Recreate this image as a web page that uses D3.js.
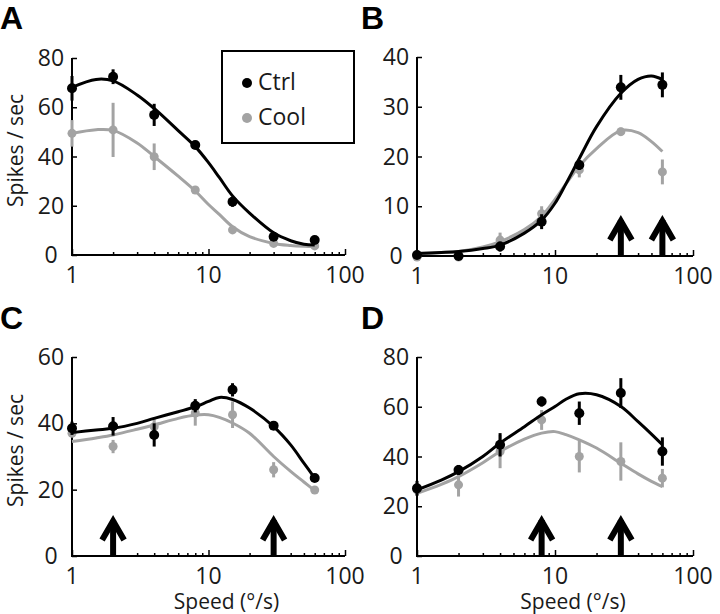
<!DOCTYPE html>
<html><head><meta charset="utf-8">
<script src="https://cdn.jsdelivr.net/npm/d3@7"></script>
<style>body{margin:0;background:#fff}svg{display:block}</style>
</head><body>
<svg id="chart" width="720" height="614"></svg>
<script>
// ---- data ----
const speeds = [1, 2, 4, 8, 15, 30, 60];
const fitSpeeds = [1, 1.5, 2, 3, 4, 6, 8, 10, 12, 15, 20, 30, 40, 50, 60];
const seriesNames = ["Ctrl", "Cool"];

const aCtrl = [67.7, 72.4, 56.9, 44.7, 21.6, 7.4, 6.1];
const aCtrlErr = [5, 3, 4.5, 1, 2, 1.5, 1];
const aCool = [49.4, 50.8, 39.9, 26.4, 10.2, 4.7, 3.7];
const aCoolErr = [5.4, 11, 5.4, 1.5, 1.5, 1, 1];
const aFitCtrl = [68.1, 71.3, 70.7, 65, 59.5, 50.5, 44, 37.5, 31.5, 24, 17, 9, 5.8, 4.4, 4.1];
const aFitCool = [49.4, 50.9, 50.6, 45.5, 40, 32, 26, 20.5, 16.5, 11.5, 7.5, 4.7, 3.9, 3.6, 3.5];

const bCtrl = [0.2, 0, 1.9, 6.9, 18.3, 33.9, 34.4];
const bCtrlErr = [0.4, 0.4, 1, 1.5, 1, 2.5, 2.5];
const bCool = [-0.2, -0.2, 3.2, 8.5, 17.3, 25, 16.9];
const bCoolErr = [0.4, 0.4, 1.5, 1.5, 1.5, 0.8, 2.5];
const bFitCtrl = [0.5, 0.7, 0.9, 1.5, 2.2, 4.6, 7.2, 10.6, 14.5, 19.6, 26, 32.7, 35.5, 36.2, 35.5];
const bFitCool = [0.5, 0.7, 0.9, 1.8, 2.9, 5.3, 8, 11.4, 14.5, 18.1, 21.6, 25.2, 24.8, 23, 21];

const cCtrl = [38.5, 39.1, 36.5, 45.3, 50.1, 39.3, 23.5];
const cCtrlErr = [2, 2.8, 3.5, 2, 2, 1, 1];
const cCool = [37, 33, 39, 43.1, 42.6, 26, 19.9];
const cCoolErr = [1, 2, 2.8, 3.8, 4, 2.3, 1];
const cFitCtrl = [37.2, 38, 38.5, 40, 41.5, 43.5, 45, 46.6, 47.8, 47.2, 44.6, 39, 33.5, 28, 23.5];
const cFitCool = [34.5, 35.6, 36.5, 38.2, 39.5, 41.5, 42.5, 42.6, 41.8, 40.1, 37, 30, 25.5, 22.3, 19.7];

const dCtrl = [27.2, 34.6, 44.7, 62.1, 57.4, 65.5, 42];
const dCtrlErr = [3, 2, 4.7, 2, 4.7, 6, 5.7];
const dCool = [26.6, 28.6, 42, 54.7, 40, 38, 31.3];
const dCoolErr = [2, 4.7, 6.7, 4, 6.4, 7.7, 3.7];
const dFitCtrl = [26.6, 30.5, 33.9, 40, 45.4, 52, 56.8, 60.1, 63, 65.2, 64.8, 60.1, 54, 49, 44.7];
const dFitCool = [25.2, 28.8, 31.9, 37.5, 42, 47, 49.4, 50, 48.8, 46.7, 43.4, 37.3, 33, 30, 27.9];

const yTicksA = [0, 20, 40, 60, 80];
const yTicksB = [0, 10, 20, 30, 40];
const yTicksC = [0, 20, 40, 60];
const yTicksD = [0, 20, 40, 60, 80];
const xTickLabels = [1, 10, 100];
const arrowsB = [30, 60];
const arrowsC = [2, 30];
const arrowsD = [8, 30];

// ---- drawing ----
const FONT = "'Open Sans', Lato, sans-serif";
const TXT = "#1a1a1a";
const BLACK = "#000", GRAY = "#a3a3a3";
const svg = d3.select("#chart");

const panels = [
  {letter:"A", lx:0, ly:29, x0:72, x1:345, y0:255, y1:58, ymax:80, yt:yTicksA,
   ctrl:aCtrl, ctrlErr:aCtrlErr, cool:aCool, coolErr:aCoolErr, fitCtrl:aFitCtrl, fitCool:aFitCool,
   arrows:[], ylab:true, xlab:false, legend:true},
  {letter:"B", lx:361, ly:29, x0:417, x1:693, y0:256, y1:57, ymax:40, yt:yTicksB,
   ctrl:bCtrl, ctrlErr:bCtrlErr, cool:bCool, coolErr:bCoolErr, fitCtrl:bFitCtrl, fitCool:bFitCool,
   arrows:arrowsB, ylab:false, xlab:false},
  {letter:"C", lx:0, ly:329, x0:72, x1:345, y0:556, y1:357, ymax:60, yt:yTicksC,
   ctrl:cCtrl, ctrlErr:cCtrlErr, cool:cCool, coolErr:cCoolErr, fitCtrl:cFitCtrl, fitCool:cFitCool,
   arrows:arrowsC, ylab:true, xlab:true},
  {letter:"D", lx:361, ly:329, x0:417, x1:693, y0:556, y1:357, ymax:80, yt:yTicksD,
   ctrl:dCtrl, ctrlErr:dCtrlErr, cool:dCool, coolErr:dCoolErr, fitCtrl:dFitCtrl, fitCool:dFitCool,
   arrows:arrowsD, ylab:false, xlab:true}
];

panels.forEach(p => {
  const x = d3.scaleLog().domain([1, 100]).range([p.x0, p.x1]);
  const y = d3.scaleLinear().domain([0, p.ymax]).range([p.y0, p.y1]);
  const g = svg.append("g");

  // panel letter
  svg.append("text").attr("x", p.lx).attr("y", p.ly).text(p.letter)
    .attr("font-family", "'Liberation Sans', Arial, sans-serif").attr("font-weight", "bold")
    .attr("font-size", 32).attr("fill", "#000");

  // x axis (ticks pointing inward)
  const xAxis = d3.axisTop(x)
    .tickValues(d3.range(0, 3).flatMap(e => d3.range(1, 10).map(m => m * Math.pow(10, e))).filter(v => v <= 100))
    .tickSize(0).tickFormat("");
  const xg = g.append("g").attr("transform", `translate(0,${p.y0})`).call(xAxis);
  xg.select(".domain").remove();
  xg.selectAll(".tick line").remove();
  xg.selectAll(".tick").append("line")
    .attr("y2", d => (Math.abs(Math.log10(d) - Math.round(Math.log10(d))) < 1e-9) ? -6 : -3)
    .attr("stroke", "#000").attr("stroke-width", 1.5);
  g.append("line").attr("x1", p.x0).attr("x2", p.x1).attr("y1", p.y0).attr("y2", p.y0)
    .attr("stroke", "#000").attr("stroke-width", 2);
  xTickLabels.forEach(v => {
    g.append("text").attr("x", x(v)).attr("y", p.y0 + 28).attr("text-anchor", "middle")
      .attr("font-family", FONT).attr("font-size", 23).attr("fill", TXT).text(v);
  });

  // y axis (ticks inward)
  const yAxis = d3.axisRight(y).tickValues(p.yt).tickSize(5).tickFormat("");
  const yg = g.append("g").attr("transform", `translate(${p.x0},0)`).call(yAxis);
  yg.select(".domain").remove();
  yg.selectAll(".tick line").attr("stroke", "#000").attr("stroke-width", 1.5);
  g.append("line").attr("x1", p.x0).attr("x2", p.x0).attr("y1", p.y0 + 1).attr("y2", p.y1)
    .attr("stroke", "#000").attr("stroke-width", 2);
  p.yt.forEach(v => {
    g.append("text").attr("x", p.x0 - 21).attr("y", y(v) + 8).attr("text-anchor", "middle")
      .attr("font-family", FONT).attr("font-size", 23).attr("fill", TXT).text(v);
  });

  // labels
  if (p.ylab) {
    const cy = (p.y0 + p.y1) / 2 - 6;
    g.append("text").attr("transform", `translate(23,${cy}) rotate(-90)`).attr("text-anchor", "middle")
      .attr("font-family", FONT).attr("font-size", 21).attr("fill", TXT).text("Spikes / sec");
  }
  if (p.xlab) {
    g.append("text").attr("x", (p.x0 + p.x1) / 2 + 18).attr("y", 609).attr("text-anchor", "middle")
      .attr("font-family", FONT).attr("font-size", 21).attr("fill", TXT).text("Speed (°/s)");
  }

  // arrows
  p.arrows.forEach(v => {
    const cx = x(v), tip = p.y0 - 40;
    g.append("line").attr("x1", cx).attr("x2", cx).attr("y1", p.y0).attr("y2", tip + 4)
      .attr("stroke", "#000").attr("stroke-width", 6);
    g.append("path").attr("d", `M${cx - 11},${tip + 24} L${cx},${tip + 5} L${cx + 11},${tip + 24}`)
      .attr("fill", "none").attr("stroke", "#000").attr("stroke-width", 6)
      .attr("stroke-linejoin", "miter");
  });

  // series
  const line = d3.line().x(d => x(d[0])).y(d => y(d[1])).curve(d3.curveCatmullRom.alpha(0.5));
  const series = [
    {vals:p.cool, err:p.coolErr, fit:p.fitCool, color:GRAY, r:4.5},
    {vals:p.ctrl, err:p.ctrlErr, fit:p.fitCtrl, color:BLACK, r:5}
  ];
  series.forEach(s => {
    g.append("path").datum(fitSpeeds.map((sp, i) => [sp, s.fit[i]]))
      .attr("d", line).attr("fill", "none").attr("stroke", s.color).attr("stroke-width", 3);
    speeds.forEach((sp, i) => {
      g.append("line").attr("x1", x(sp)).attr("x2", x(sp))
        .attr("y1", y(s.vals[i] - s.err[i])).attr("y2", y(s.vals[i] + s.err[i]))
        .attr("stroke", s.color).attr("stroke-width", 3);
    });
    g.selectAll(null).data(speeds.map((sp, i) => [sp, s.vals[i]])).enter().append("circle")
      .attr("cx", d => x(d[0])).attr("cy", d => y(d[1])).attr("r", s.r).attr("fill", s.color);
  });

  // legend
  if (p.legend) {
    g.append("rect").attr("x", 222).attr("y", 51).attr("width", 132).attr("height", 92)
      .attr("fill", "#fff").attr("stroke", "#000").attr("stroke-width", 2);
    const items = [{name:seriesNames[0], color:BLACK, cy:83}, {name:seriesNames[1], color:GRAY, cy:118}];
    items.forEach(it => {
      g.append("circle").attr("cx", 247).attr("cy", it.cy).attr("r", 5).attr("fill", it.color);
      g.append("text").attr("x", 258).attr("y", it.cy + 7).attr("font-family", FONT)
        .attr("font-size", 23).attr("fill", TXT).text(it.name);
    });
  }
});
</script>
</body></html>
